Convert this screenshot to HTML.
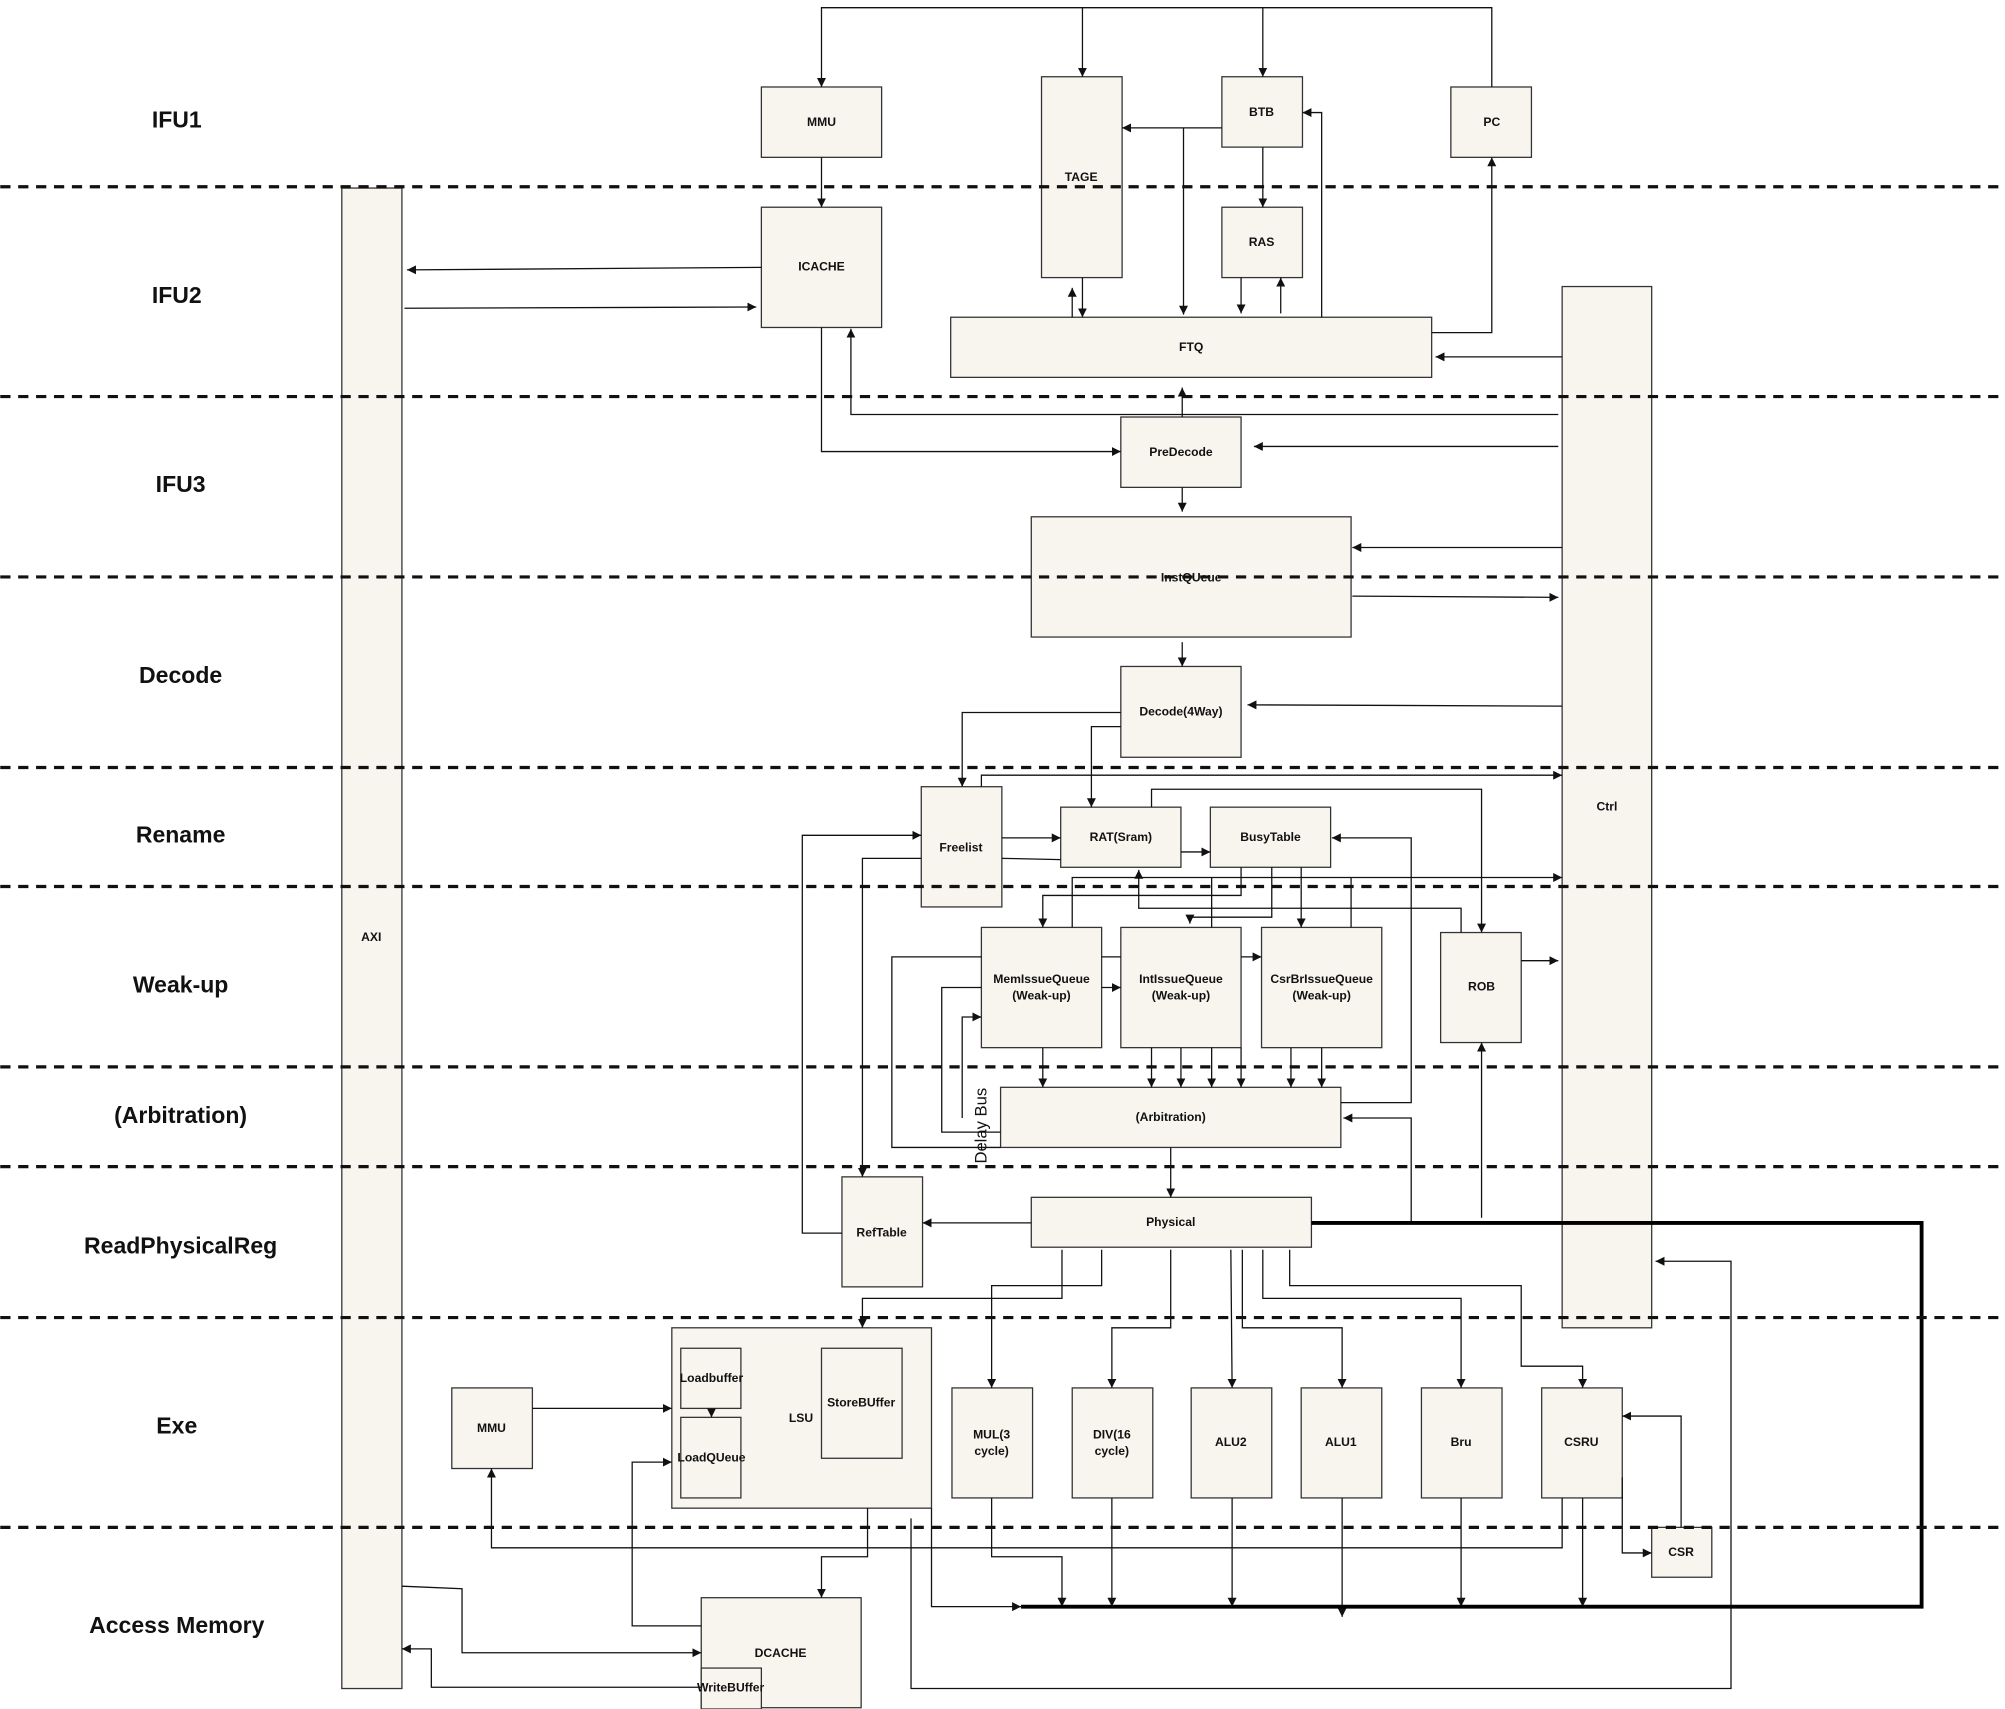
<!DOCTYPE html>
<html><head><meta charset="utf-8"><style>
html,body{margin:0;padding:0;background:#fff;}
svg{display:block;}
text{font-family:"Liberation Sans",sans-serif;}
.b{fill:#f7f5ee;stroke:#333;stroke-width:1;}
.l{fill:none;stroke:#111;stroke-width:1;}
.t{font-size:9.5px;font-weight:bold;text-anchor:middle;dominant-baseline:middle;fill:#111;}
.s{font-size:18px;font-weight:bold;text-anchor:middle;dominant-baseline:middle;fill:#111;}
.d{stroke:#111;stroke-width:2.5;stroke-dasharray:8,6;}
</style></head><body>
<svg width="2005" height="1709" viewBox="0 0 1567 1336" xmlns="http://www.w3.org/2000/svg">
<defs><marker id="a" markerWidth="8" markerHeight="8" refX="7" refY="4" orient="auto" markerUnits="userSpaceOnUse"><path d="M0,0.5 L7,4 L0,7.5 Z" fill="#111"/></marker></defs>
<text class="s" x="138" y="95">IFU1</text>
<text class="s" x="138" y="232">IFU2</text>
<text class="s" x="141" y="380">IFU3</text>
<text class="s" x="141" y="529">Decode</text>
<text class="s" x="141" y="654">Rename</text>
<text class="s" x="141" y="771">Weak-up</text>
<text class="s" x="141" y="873">(Arbitration)</text>
<text class="s" x="141" y="975">ReadPhysicalReg</text>
<text class="s" x="138" y="1116">Exe</text>
<text class="s" x="138" y="1272">Access Memory</text>

<!-- boxes -->
<rect class="b" x="267" y="147" width="47" height="1173"/>
<rect class="b" x="595" y="68" width="94" height="55"/>
<rect class="b" x="814" y="60" width="63" height="157"/>
<rect class="b" x="955" y="60" width="63" height="55"/>
<rect class="b" x="1134" y="68" width="63" height="55"/>
<rect class="b" x="595" y="162" width="94" height="94"/>
<rect class="b" x="955" y="162" width="63" height="55"/>
<rect class="b" x="743" y="248" width="376" height="47"/>
<rect class="b" x="1221" y="224" width="70" height="814"/>
<rect class="b" x="876" y="326" width="94" height="55"/>
<rect class="b" x="806" y="404" width="250" height="94"/>
<rect class="b" x="876" y="521" width="94" height="71"/>
<rect class="b" x="720" y="615" width="63" height="94"/>
<rect class="b" x="829" y="631" width="94" height="47"/>
<rect class="b" x="946" y="631" width="94" height="47"/>
<rect class="b" x="767" y="725" width="94" height="94"/>
<rect class="b" x="876" y="725" width="94" height="94"/>
<rect class="b" x="986" y="725" width="94" height="94"/>
<rect class="b" x="1126" y="729" width="63" height="86"/>
<rect class="b" x="782" y="850" width="266" height="47"/>
<rect class="b" x="658" y="920" width="63" height="86"/>
<rect class="b" x="806" y="936" width="219" height="39"/>
<rect class="b" x="525" y="1038" width="203" height="141"/>
<rect class="b" x="532" y="1054" width="47" height="47"/>
<rect class="b" x="532" y="1108" width="47" height="63"/>
<rect class="b" x="642" y="1054" width="63" height="86"/>
<rect class="b" x="353" y="1085" width="63" height="63"/>
<rect class="b" x="744" y="1085" width="63" height="86"/>
<rect class="b" x="838" y="1085" width="63" height="86"/>
<rect class="b" x="931" y="1085" width="63" height="86"/>
<rect class="b" x="1017" y="1085" width="63" height="86"/>
<rect class="b" x="1111" y="1085" width="63" height="86"/>
<rect class="b" x="1205" y="1085" width="63" height="86"/>
<rect class="b" x="1291" y="1194" width="47" height="39"/>
<rect class="b" x="548" y="1249" width="125" height="86"/>
<rect class="b" x="548" y="1304" width="47" height="32"/>

<!-- labels -->
<text class="t" x="290" y="733">AXI</text>
<text class="t" x="642" y="96">MMU</text>
<text class="t" x="845" y="139">TAGE</text>
<text class="t" x="986" y="88">BTB</text>
<text class="t" x="1166" y="96">PC</text>
<text class="t" x="642" y="209">ICACHE</text>
<text class="t" x="986" y="190">RAS</text>
<text class="t" x="931" y="272">FTQ</text>
<text class="t" x="1256" y="631">Ctrl</text>
<text class="t" x="923" y="354">PreDecode</text>
<text class="t" x="931" y="452">InstQUeue</text>
<text class="t" x="923" y="557">Decode(4Way)</text>
<text class="t" x="751" y="663">Freelist</text>
<text class="t" x="876" y="655">RAT(Sram)</text>
<text class="t" x="993" y="655">BusyTable</text>
<text class="t" x="814" y="766">MemIssueQueue</text><text class="t" x="814" y="779">(Weak-up)</text>
<text class="t" x="923" y="766">IntIssueQueue</text><text class="t" x="923" y="779">(Weak-up)</text>
<text class="t" x="1033" y="766">CsrBrIssueQueue</text><text class="t" x="1033" y="779">(Weak-up)</text>
<text class="t" x="1158" y="772">ROB</text>
<text class="t" x="915" y="874">(Arbitration)</text>
<text class="t" x="689" y="964">RefTable</text>
<text class="t" x="915" y="956">Physical</text>
<text class="t" x="556" y="1078">Loadbuffer</text>
<text class="t" x="556" y="1140">LoadQUeue</text>
<text class="t" x="673" y="1097">StoreBUffer</text>
<text class="t" x="626" y="1109">LSU</text>
<text class="t" x="384" y="1117">MMU</text>
<text class="t" x="775" y="1122">MUL(3</text><text class="t" x="775" y="1135">cycle)</text>
<text class="t" x="869" y="1122">DIV(16</text><text class="t" x="869" y="1135">cycle)</text>
<text class="t" x="962" y="1128">ALU2</text>
<text class="t" x="1048" y="1128">ALU1</text>
<text class="t" x="1142" y="1128">Bru</text>
<text class="t" x="1236" y="1128">CSRU</text>
<text class="t" x="1314" y="1214">CSR</text>
<text class="t" x="610" y="1293">DCACHE</text>
<text class="t" x="571" y="1320">WriteBUffer</text>
<text x="771" y="880" transform="rotate(-90 771 880)" style="font-size:13px;text-anchor:middle;fill:#111;">Delay Bus</text>

<!-- connectors -->
<g class="l" marker-end="url(#a)">
<path d="M1166,68 V6 H642 V68"/>
<path d="M846,6 V60"/>
<path d="M987,6 V60"/>
<path d="M642,123 V162"/>
<path d="M955,100 H877"/>
<path d="M925,100 V246"/>
<path d="M987,115 V162"/>
<path d="M846,217 V248"/>
<path d="M838,248 V225"/>
<path d="M970,217 V245"/>
<path d="M1001,245 V217"/>
<path d="M1033,248 V88 H1018"/>
<path d="M1119,260 H1166 V123"/>
<path d="M1221,279 H1122"/>
<path d="M595,209 L318,211"/>
<path d="M316,241 L591,240"/>
<path d="M1218,324 H665 V257"/>
<path d="M642,256 V353 H876"/>
<path d="M924,326 V303"/>
<path d="M1218,349 H980"/>
<path d="M924,381 V400"/>
<path d="M1221,428 H1057"/>
<path d="M1057,466 L1218,467"/>
<path d="M924,502 V521"/>
<path d="M1221,552 L975,551"/>
<path d="M876,557 H752 V615"/>
<path d="M876,568 H853 V631"/>
<path d="M767,615 V606 H1221"/>
<path d="M783,655 H829"/>
<path d="M923,666 H946"/>
<path d="M900,631 V617 H1158 V729"/>
<path d="M1048,862 H1103 V655 H1041"/>
<path d="M1103,955 V874 H1050"/>
<path d="M838,725 V686 H1221"/>
<path d="M970,678 V700 H815 V725"/>
<path d="M994,678 V717 H930 V722"/>
<path d="M1017,678 V725"/>
<path d="M1142,729 V710 H890 V680"/>
<path d="M1189,751 H1218"/>
<path d="M1158,952 V815"/>
<path d="M861,772 H876"/>
<path d="M970,748 H986"/>
<path d="M752,874 V795 H767"/>
<path d="M815,819 V850"/>
<path d="M900,819 V850"/><path d="M923,819 V850"/><path d="M947,819 V850"/><path d="M970,819 V850"/>
<path d="M1009,819 V850"/><path d="M1033,819 V850"/>
<path d="M915,897 V936"/>
<path d="M806,956 H721"/>
<path d="M658,964 H627 V653 H720"/>
<path d="M720,671 H674 V920"/>
<path d="M830,977 V1015 H674 V1038"/>
<path d="M861,977 V1005 H775 V1085"/>
<path d="M915,977 V1038 H869 V1085"/>
<path d="M962,977 L963,1085"/>
<path d="M971,977 V1038 H1049 V1085"/>
<path d="M987,977 V1015 H1142 V1085"/>
<path d="M1008,977 V1005 H1189 V1068 H1237 V1085"/>
<path d="M416,1101 H525"/>
<path d="M556,1101 V1108"/>
<path d="M548,1271 H494 V1143 H525"/>
<path d="M678,1179 V1217 H642 V1249"/>
<path d="M728,1179 V1256 H798"/>
<path d="M712,1187 V1320 H1353 V986 H1294"/>
<path d="M1221,1171 V1210 H384 V1148"/>
<path d="M775,1171 V1217 H830 V1256"/>
<path d="M869,1171 V1256"/>
<path d="M963,1171 V1256"/>
<path d="M1049,1171 V1264"/>
<path d="M1142,1171 V1256"/>
<path d="M1237,1171 V1256"/>
<path d="M1268,1155 V1214 H1291"/>
<path d="M1314,1194 V1107 H1268"/>
<path d="M314,1240 L361,1242 V1292 H548"/>
<path d="M548,1319 H337 V1289 H314"/>
</g>
<g class="l">
<path d="M783,671 L829,672"/>
<path d="M947,725 V686"/>
<path d="M1056,725 V686"/>
<path d="M861,748 H876"/>
<path d="M767,748 H697 V897 H782"/>
<path d="M767,772 H736 V885 H782"/>
</g>
<path d="M1025,956 H1502 V1256 H798" fill="none" stroke="#000" stroke-width="3"/>
<g>
<line class="d" x1="0" y1="146" x2="1567" y2="146"/>
<line class="d" x1="0" y1="310" x2="1567" y2="310"/>
<line class="d" x1="0" y1="451" x2="1567" y2="451"/>
<line class="d" x1="0" y1="600" x2="1567" y2="600"/>
<line class="d" x1="0" y1="693" x2="1567" y2="693"/>
<line class="d" x1="0" y1="834" x2="1567" y2="834"/>
<line class="d" x1="0" y1="912" x2="1567" y2="912"/>
<line class="d" x1="0" y1="1030" x2="1567" y2="1030"/>
<line class="d" x1="0" y1="1194" x2="1567" y2="1194"/>
</g>
</svg>
</body></html>
